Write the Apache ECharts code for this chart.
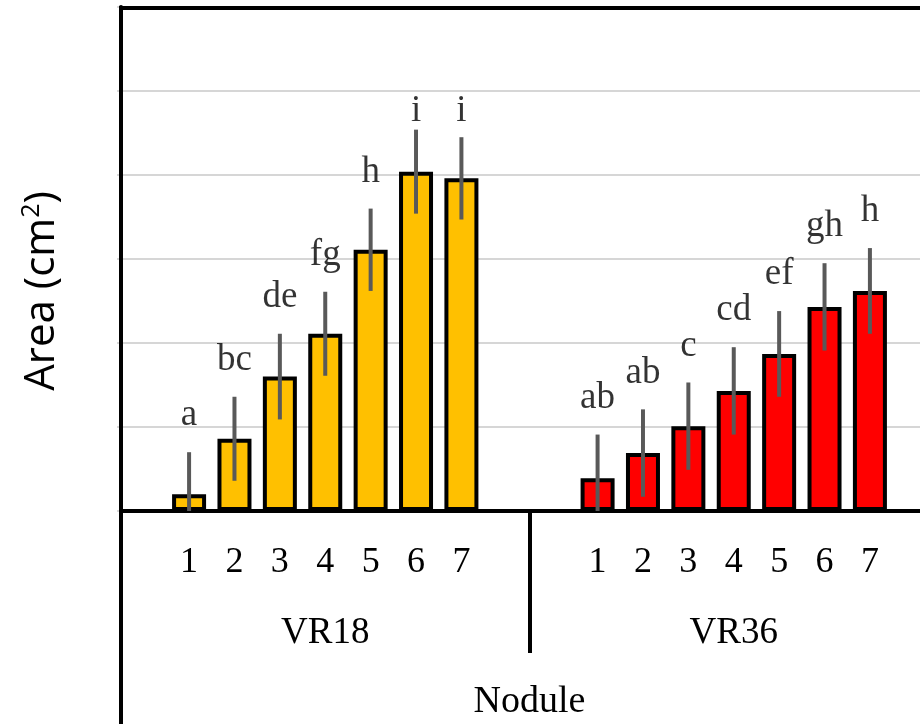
<!DOCTYPE html>
<html>
<head>
<meta charset="utf-8">
<script src="https://cdn.jsdelivr.net/npm/echarts@6/dist/echarts.min.js"></script>
<style>
  html, body { margin: 0; padding: 0; background: #ffffff; }
  #chart { width: 920px; height: 724px; }
</style>
</head>
<body>
<div id="chart"></div>
<script>
// ---- data ----
const groups = ['VR18', 'VR36'];
const nodules = ['1', '2', '3', '4', '5', '6', '7'];
const vr18Values = [0.20, 0.86, 1.60, 2.11, 3.11, 4.04, 3.96];
const vr18Errors = [0.50, 0.50, 0.51, 0.50, 0.49, 0.50, 0.49];
const vr18Letters = ['a', 'bc', 'de', 'fg', 'h', 'i', 'i'];
const vr36Values = [0.39, 0.69, 1.01, 1.43, 1.87, 2.43, 2.62];
const vr36Errors = [0.52, 0.52, 0.52, 0.52, 0.51, 0.52, 0.51];
const vr36Letters = ['ab', 'ab', 'c', 'cd', 'ef', 'gh', 'h'];
const yTicks = [0, 1, 2, 3, 4, 5, 6];
const LETTER_CAP = 4.32;

// ---- build category slots: blank, 1..7, blank per group ----
const categories = [];
const values = [];
const errors = [];
const letters = [];
const colorsIdx = [];
function addGroup(vals, errs, lets, gi) {
  categories.push(''); values.push(null); errors.push(null); letters.push(''); colorsIdx.push(gi);
  for (let i = 0; i < nodules.length; i++) {
    categories.push(nodules[i]); values.push(vals[i]); errors.push(errs[i]); letters.push(lets[i]); colorsIdx.push(gi);
  }
  categories.push(''); values.push(null); errors.push(null); letters.push(''); colorsIdx.push(gi);
}
addGroup(vr18Values, vr18Errors, vr18Letters, 0);
addGroup(vr36Values, vr36Errors, vr36Letters, 1);

const groupColors = ['#FFC000', '#FF0000'];
const serif = 'Liberation Serif';

const barData = values.map((v, i) => v == null ? null : {
  value: v,
  itemStyle: { color: groupColors[colorsIdx[i]] }
});
const errData = [];
const letterData = [];
values.forEach((v, i) => {
  if (v == null) return;
  errData.push([i, v, errors[i]]);
  letterData.push({ value: [i, Math.min(v + errors[i], LETTER_CAP)], name: letters[i] });
});

const chart = echarts.init(document.getElementById('chart'), null, { renderer: 'canvas' });
chart.setOption({
  animation: false,
  backgroundColor: '#ffffff',
  grid: { left: 121, top: 7, width: 817, height: 504, containLabel: false, outerBoundsMode: 'none' },
  xAxis: [
    {
      type: 'category',
      data: categories,
      position: 'bottom',
      axisLine: { show: true, lineStyle: { color: '#000', width: 4 } },
      axisTick: { show: false },
      axisLabel: { show: true, margin: 34, fontFamily: serif, fontSize: 36, color: '#000', interval: 0 },
      splitLine: { show: false },
      name: 'Nodule',
      nameLocation: 'middle',
      nameGap: 172,
      nameTextStyle: { fontFamily: serif, fontSize: 38, color: '#000' }
    },
    {
      type: 'category',
      data: groups,
      position: 'bottom',
      axisLine: { show: false },
      axisTick: { show: true, length: 142, lineStyle: { color: '#000', width: 4 } },
      axisLabel: { show: true, margin: 104, fontFamily: serif, fontSize: 37, color: '#000' },
      splitLine: { show: false }
    }
  ],
  yAxis: {
    type: 'value',
    min: 0,
    max: yTicks[yTicks.length - 1],
    interval: 1,
    axisLine: { show: true, lineStyle: { color: '#000', width: 4 } },
    axisTick: { show: true, length: 4, lineStyle: { color: '#d9d9d9', width: 2 } },
    axisLabel: { show: false },
    splitLine: { show: true, lineStyle: { color: '#d6d6d6', width: 2 } },
    name: '{a|Area (cm}{s|2}{a|)}',
    nameLocation: 'middle',
    nameGap: 56,
    nameRotate: 90,
    nameTextStyle: {
      padding: [0, 64, 0, 0],
      rich: {
        a: { fontFamily: 'Open Sans', fontSize: 42, color: '#000', lineHeight: 46 },
        s: { fontFamily: 'Open Sans', fontSize: 25, color: '#000', verticalAlign: 'top', lineHeight: 46, padding: [0, 0, 14, 0] }
      }
    }
  },
  series: [
    {
      type: 'bar',
      xAxisIndex: 0,
      data: barData,
      barWidth: 34,
      itemStyle: { borderColor: '#000', borderWidth: 4 },
      z: 2
    },
    {
      type: 'custom',
      xAxisIndex: 0,
      data: errData,
      z: 3,
      renderItem: function (params, api) {
        const x = api.value(0), v = api.value(1), e = api.value(2);
        const top = api.coord([x, v + e]);
        const bot = api.coord([x, Math.max(0, v - e)]);
        return {
          type: 'line',
          shape: { x1: top[0], y1: top[1], x2: bot[0], y2: bot[1] },
          style: { stroke: '#595959', lineWidth: 4 }
        };
      }
    },
    {
      type: 'scatter',
      xAxisIndex: 0,
      data: letterData,
      symbolSize: 0,
      z: 4,
      label: {
        show: true,
        position: 'top',
        distance: 18,
        formatter: p => p.name,
        fontFamily: serif,
        fontSize: 37,
        color: '#000'
      }
    }
  ],
  graphic: [
    { type: 'line', shape: { x1: 121, y1: 7, x2: 121, y2: 724 }, style: { stroke: '#000', lineWidth: 4 }, z: 10 },
    { type: 'line', shape: { x1: 119, y1: 8, x2: 920, y2: 8 }, style: { stroke: '#000', lineWidth: 4 }, z: 10 }
  ]
});
</script>
</body>
</html>
